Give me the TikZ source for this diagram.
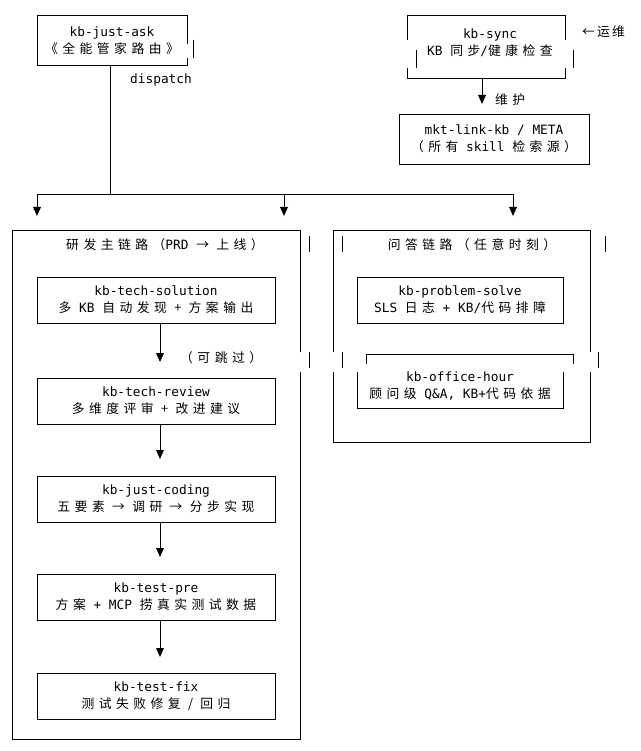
\documentclass[tikz,border=0pt]{standalone}
\usepackage{fontspec}
\setmainfont{DejaVu Sans Mono}
\newfontfamily\cjk[LetterSpace=35]{Noto Sans CJK SC}
\newfontfamily\cjktight{Noto Sans CJK SC}
\newcommand\zh[1]{{\cjk #1}}
\begin{document}
\begin{tikzpicture}[x=1pt,y=-1pt,
  box/.style={draw,line width=0.9pt},
  ln/.style={line width=0.9pt},
  tx/.style={font=\fontsize{12.8}{17}\selectfont,align=center,inner sep=0pt}]
\useasboundingbox (0,0) rectangle (640,751);
\newcommand\tri[2]{\fill (#1-4,#2-5) -- (#1+4,#2-5) -- (#1,#2+4) -- cycle;}
% kb-just-ask
\draw[ln] (187,44) -- (187,15) -- (37,15) -- (37,65) -- (187,65) -- (187,58);
\draw[ln] (193,40) -- (193,58);
\node[tx] (ask) at (112,41) {kb-just-ask\\\zh{《全能管家路由》}};
\node[tx,anchor=west] (dsp) at (130,80) {dispatch};
% kb-sync
\draw[ln] (565,40) -- (565,15) -- (407,15) -- (407,40);
\draw[ln] (407,68) -- (407,78) -- (565,78) -- (565,68);
\draw[ln] (416,50) -- (416,68); \draw[ln] (573,50) -- (573,68);
\node[tx] (sync) at (490,43) {kb-sync\\KB \zh{同步}/\zh{健康检查}};
\node[tx,anchor=west] (ops) at (582,32) {{\cjktight ←\,运\,维}};
\coordinate (s1) at (482,78); \coordinate (s2) at (482,100);
\draw[ln] (s1) -- (s2); \tri{482}{100}
\node[tx,anchor=west] (wh) at (495,100) {\zh{维护}};
\node[box,tx,minimum width=190pt,minimum height=50pt] (mkt) at (494,139) {mkt-link-kb / META\\\zh{（所有} skill \zh{检索源）}};
% dispatch lines
\coordinate (d0) at (110,65); \coordinate (d1) at (110,194);
\draw[ln] (d0) -- (d1);
\draw[ln] (37,207) -- (37,194) -- (513,194) -- (513,207);
\draw[ln] (284,194) -- (284,207);
\tri{37}{212}\tri{284}{212}\tri{513}{212}
% left panel
\draw[ln] (300,352) -- (300,230) -- (12,230) -- (12,739) -- (300,739) -- (300,372);
\draw[ln] (309,236) -- (309,252); \draw[ln] (309,352) -- (309,368);
\node[tx] (lt) at (165,245) {\zh{研发主链路（}PRD \zh{→ 上线）}};
% right panel
\draw[ln] (333,352) -- (333,230) -- (590,230) -- (590,352);
\draw[ln] (333,372) -- (333,442) -- (590,442) -- (590,372);
\draw[ln] (342,236) -- (342,252); \draw[ln] (605,236) -- (605,252);
\draw[ln] (342,352) -- (342,368); \draw[ln] (598,352) -- (598,368);
\node[tx] (rt) at (472,245) {\zh{问答链路（任意时刻）}};
% left chain
\tikzset{lb/.style={box,tx,minimum width=238pt,minimum height=46pt}}
\node[lb] (sol) at (156,300) {kb-tech-solution\\\zh{多} KB \zh{自动发现 + 方案输出}};
\node[lb] (rev) at (156,401) {kb-tech-review\\\zh{多维度评审 + 改进建议}};
\node[lb] (cod) at (156,499) {kb-just-coding\\\zh{五要素 → 调研 → 分步实现}};
\node[lb] (pre) at (156,597) {kb-test-pre\\\zh{方案} + MCP \zh{捞真实测试数据}};
\node[lb] (fix) at (156,696) {kb-test-fix\\\zh{测试失败修复 / 回归}};
\draw[ln] (160,323) -- (160,353); \tri{160}{358}
\node[tx,anchor=west] (skip) at (180,358) {\zh{（可跳过）}};
\draw[ln] (160,424) -- (160,450); \tri{160}{455}
\draw[ln] (160,522) -- (160,548); \tri{160}{553}
\draw[ln] (160,620) -- (160,648); \tri{160}{653}
% right chain
\node[box,tx,minimum width=206pt,minimum height=46pt] (ps) at (460,300) {kb-problem-solve\\SLS \zh{日志} + KB/\zh{代码排障}};
\draw[ln] (357,372) -- (357,408) -- (563,408) -- (563,372);
\draw[ln] (366,364) -- (366,354) -- (573,354) -- (573,364);
\node[tx] (oh) at (460,386) {kb-office-hour\\\zh{顾问级} Q\&A, KB+\zh{代码依据}};
\end{tikzpicture}
\end{document}
